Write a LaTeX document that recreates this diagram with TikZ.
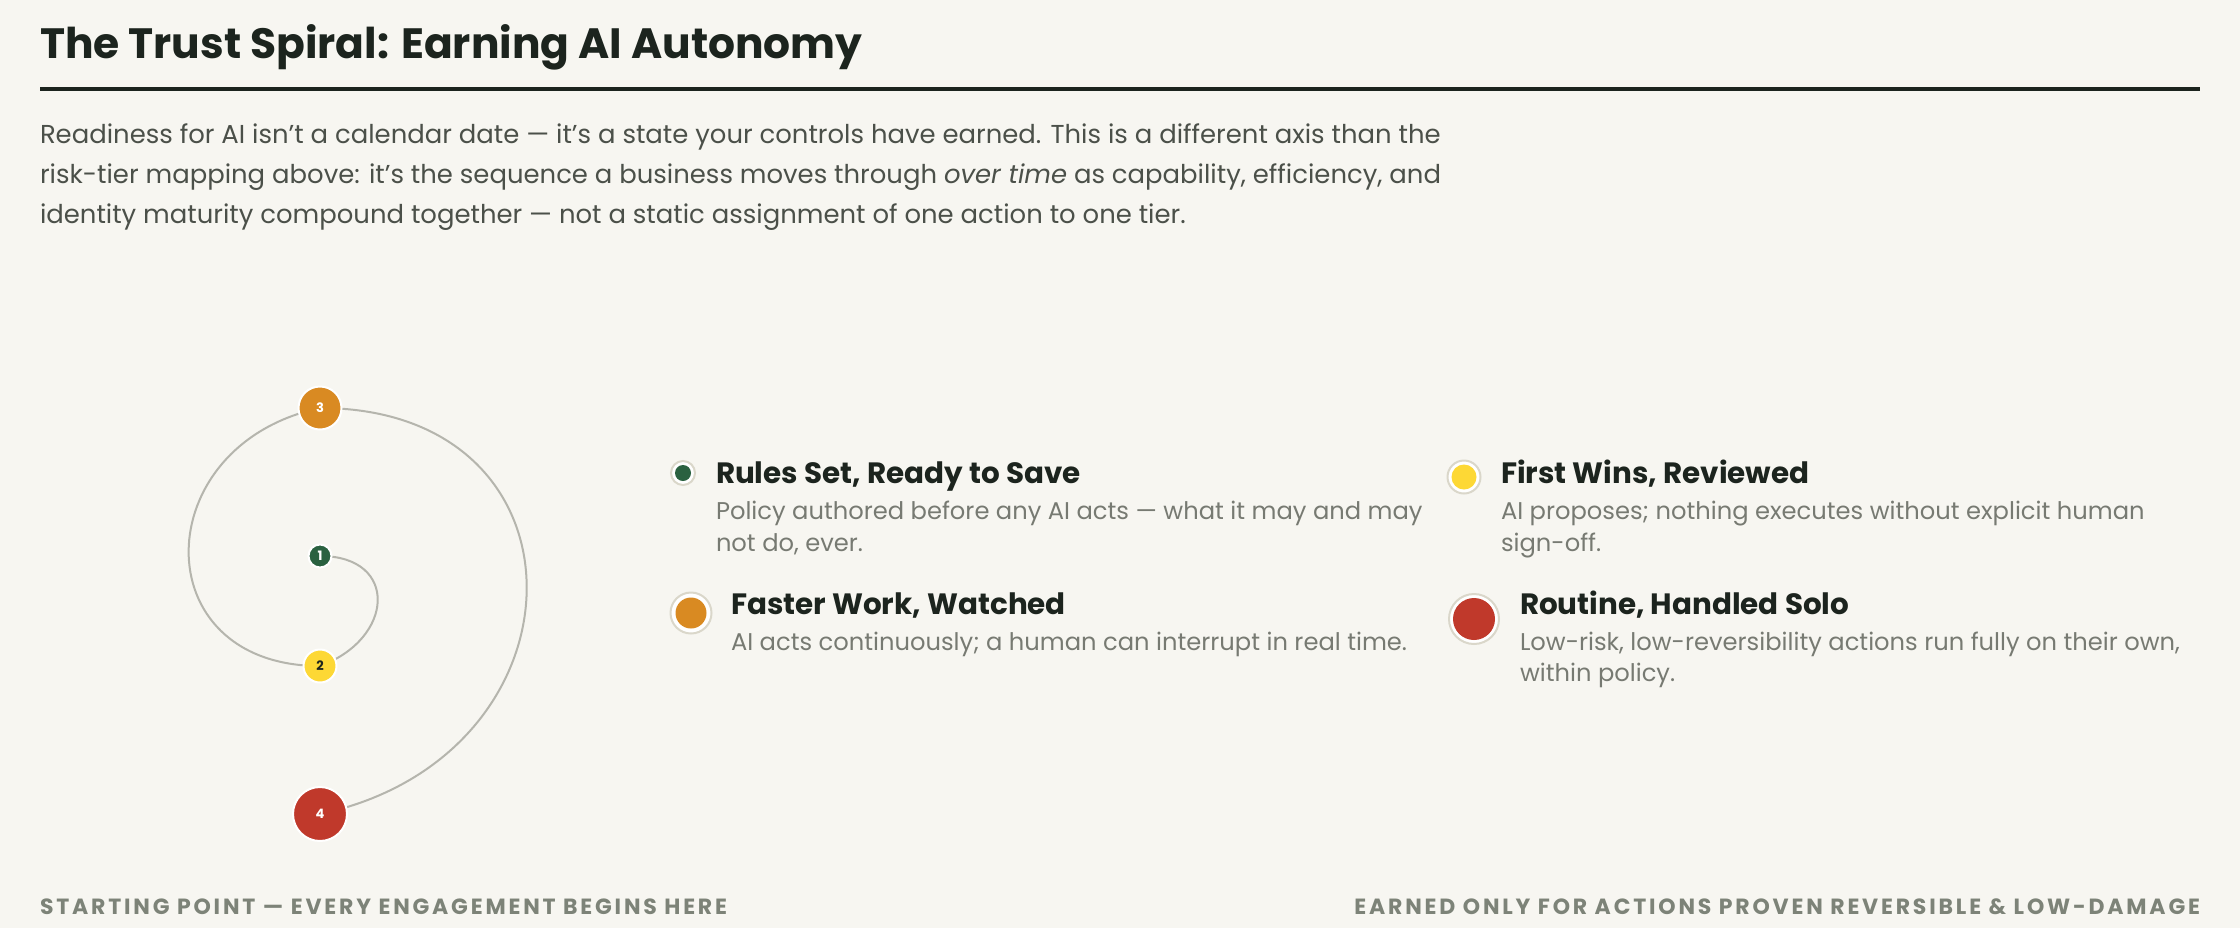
\documentclass[tikz,border=0pt]{standalone}
\usepackage{fontspec}
\setmainfont{Poppins}
\usetikzlibrary{backgrounds}
\definecolor{bg}{HTML}{F7F6F1}
\definecolor{ink}{HTML}{1C241E}
\definecolor{para}{HTML}{4B5049}
\definecolor{desc}{HTML}{777A72}
\definecolor{foot}{HTML}{7D8378}
\definecolor{spiral}{HTML}{B5B5AD}
\definecolor{ring}{HTML}{DAD7CA}
\definecolor{cgreen}{HTML}{2A6140}
\definecolor{cyellow}{HTML}{FDD835}
\definecolor{corange}{HTML}{D98A22}
\definecolor{cred}{HTML}{C0392B}
\begin{document}
\begin{tikzpicture}[x=0.5pt,y=-0.5pt,
  txt/.style={anchor=base west, inner sep=0pt, outer sep=0pt},
  titletxt/.style={txt, text=ink, font=\bfseries\fontsize{21.2}{25}\selectfont},
  paratxt/.style={txt, text=para, font=\fontsize{12.95}{15}\selectfont},
  itemtitle/.style={txt, text=ink, font=\bfseries\fontsize{14.7}{17}\selectfont},
  itemdesc/.style={txt, text=desc, font=\fontsize{12.1}{14}\selectfont},
  foottxt/.style={inner sep=0pt, outer sep=0pt, text=foot, font=\bfseries\fontsize{11}{13}\selectfont\addfontfeatures{LetterSpace=12.8}},
  stage/.style={circle, draw=white, line width=1pt, inner sep=0pt, minimum size=#1, font=\bfseries\fontsize{6.5}{8}\selectfont, text=white},
  ringdot/.style={circle, fill=white, draw=ring, line width=1pt, inner sep=0pt, minimum size=#1},
  dot/.style={circle, inner sep=0pt, minimum size=#1},
  spiralline/.style={draw=spiral, line width=1pt}
]
\useasboundingbox (0,0) rectangle (2240,928);
% title
\node[titletxt] (title) at (40,58) {The Trust Spiral: Earning AI Autonomy};
\draw[ink, line width=2pt] (40,89) -- (2200,89);
% paragraph
\node[paratxt] (p1) at (40,143) {Readiness for AI isn't a calendar date — it's a state your controls have earned. This is a different axis than the};
\node[paratxt] (p2) at (40,183) {risk-tier mapping above: it's the sequence a business moves through \textit{over time} as capability, efficiency, and};
\node[paratxt] (p3) at (40,223) {identity maturity compound together — not a static assignment of one action to one tier.};
% spiral stages
\node[stage=11.5pt, fill=cgreen] (s1) at (320,556) {1};
\node[stage=16.5pt, fill=cyellow, text=ink] (s2) at (320,666) {2};
\node[stage=21.5pt, fill=corange] (s3) at (320,408) {3};
\node[stage=27pt, fill=cred] (s4) at (320,814) {4};
\begin{scope}[on background layer]
  \fill[bg] (0,0) rectangle (2240,928);
  \draw[spiralline] (s1.center) to[out=0, in=20, looseness=1.85] (s2.center);
  \draw[spiralline] (s2.center) to[out=180, in=-168, looseness=1.76] (s3.center);
  \draw[spiralline] (s3.center) to[out=0, in=12, looseness=1.76] (s4.center);
\end{scope}
% legend
\node[ringdot=12pt] (b1) at (683,473) {};
\node[dot=8pt, fill=cgreen] (d1) at (b1) {};
\node[itemtitle] (t1) at (716,483) {Rules Set, Ready to Save};
\node[itemdesc] (e1a) at (716,519) {Policy authored before any AI acts — what it may and may};
\node[itemdesc] (e1b) at (716,551) {not do, ever.};

\node[ringdot=16.5pt] (b2) at (1464,477) {};
\node[dot=12.5pt, fill=cyellow] (d2) at (b2) {};
\node[itemtitle] (t2) at (1501,483) {First Wins, Reviewed};
\node[itemdesc] (e2a) at (1501,519) {AI proposes; nothing executes without explicit human};
\node[itemdesc] (e2b) at (1501,551) {sign-off.};

\node[ringdot=20.5pt] (b3) at (691,613) {};
\node[dot=15.5pt, fill=corange] (d3) at (b3) {};
\node[itemtitle] (t3) at (731,614) {Faster Work, Watched};
\node[itemdesc] (e3a) at (731,650) {AI acts continuously; a human can interrupt in real time.};

\node[ringdot=25pt] (b4) at (1474,619) {};
\node[dot=21pt, fill=cred] (d4) at (b4) {};
\node[itemtitle] (t4) at (1520,614) {Routine, Handled Solo};
\node[itemdesc] (e4a) at (1520,650) {Low-risk, low-reversibility actions run fully on their own,};
\node[itemdesc] (e4b) at (1520,681) {within policy.};
% footers
\node[foottxt, anchor=base west] (f1) at (40,914) {STARTING POINT — EVERY ENGAGEMENT BEGINS HERE};
\node[foottxt, anchor=base east] (f2) at (2200,914) {EARNED ONLY FOR ACTIONS PROVEN REVERSIBLE \& LOW-DAMAGE};
\end{tikzpicture}
\end{document}
